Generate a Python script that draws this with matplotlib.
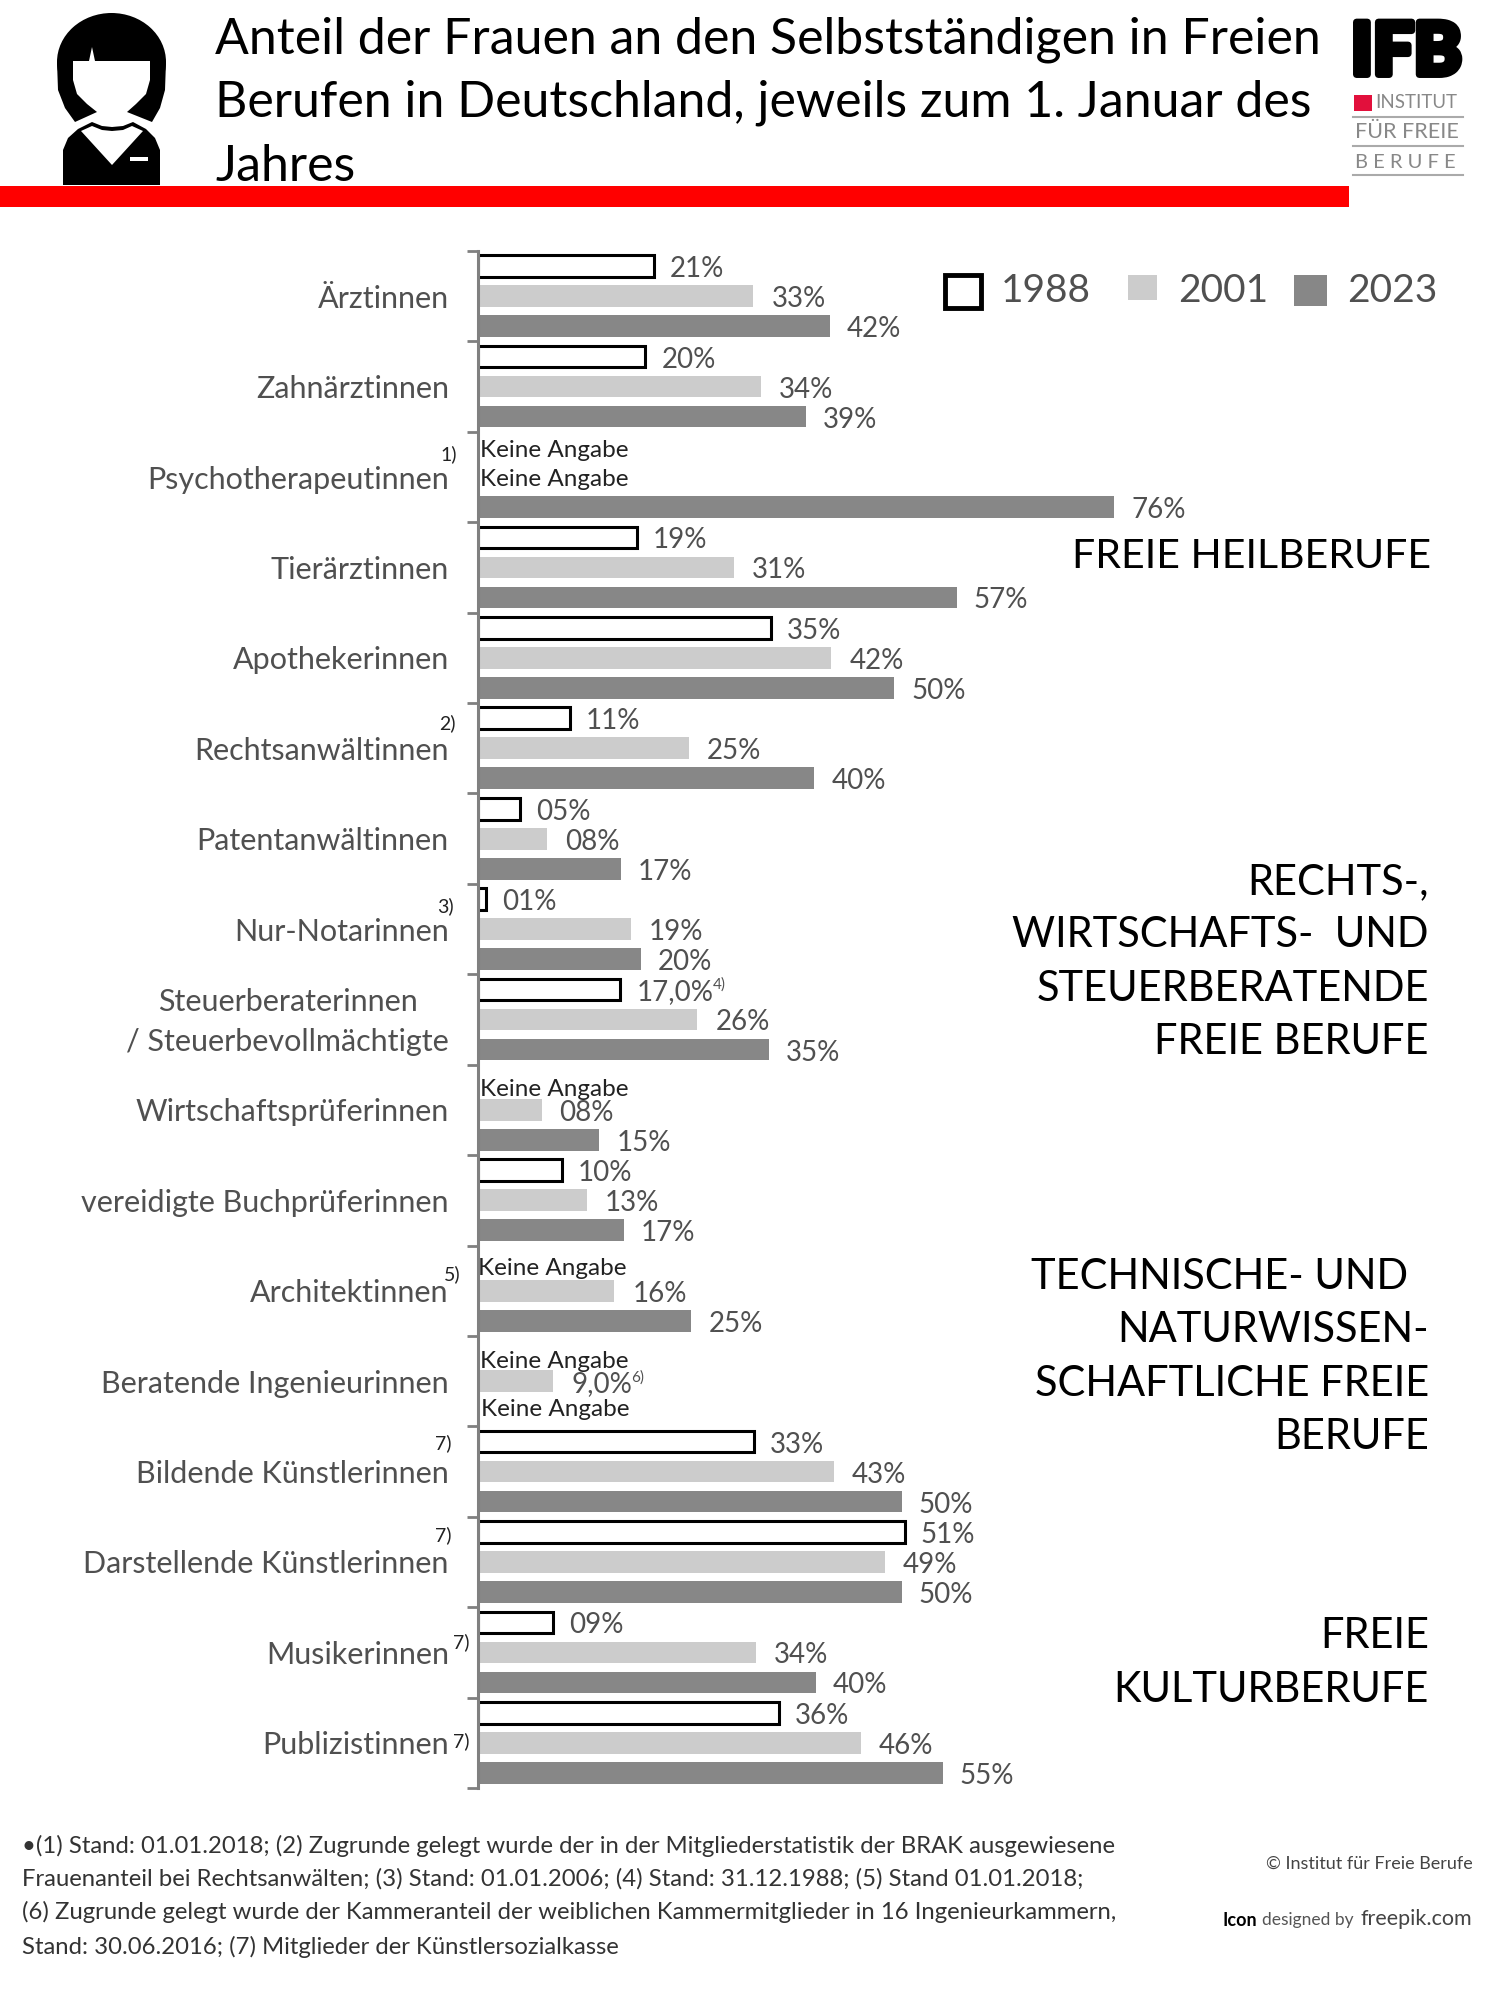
import matplotlib
matplotlib.use("Agg")
import matplotlib.pyplot as plt
import matplotlib.patheffects as pe
from matplotlib.patches import Rectangle, Ellipse, Polygon
from matplotlib.transforms import ScaledTranslation

plt.rcParams['font.family'] = ['Lato', 'DejaVu Sans']

# Data
categories = ["Ärztinnen", "Zahnärztinnen", "Psychotherapeutinnen", "Tierärztinnen",
              "Apothekerinnen", "Rechtsanwältinnen", "Patentanwältinnen", "Nur-Notarinnen",
              "Steuerberaterinnen\n/ Steuerbevollmächtigte", "Wirtschaftsprüferinnen",
              "vereidigte Buchprüferinnen", "Architektinnen", "Beratende Ingenieurinnen",
              "Bildende Künstlerinnen", "Darstellende Künstlerinnen", "Musikerinnen",
              "Publizistinnen"]
# bar lengths, the printed labels are kept apart below
v1988 = [21, 20, None, 19, 35, 11, 5, 1, 17, None, 10, None, None, 33, 51, 9, 36]
v2001 = [32.9, 33.8, None, 30.6, 42.2, 25.2, 8.2, 18.3, 26.2, 7.6, 13, 16.3, 9, 42.5, 48.6, 33.2, 45.7]
v2023 = [42, 39.2, 76, 57.2, 49.7, 40.2, 17.1, 19.5, 34.8, 14.5, 17.4, 25.5, None, 50.6, 50.6, 40.4, 55.5]
l1988 = ["21%", "20%", "", "19%", "35%", "11%", "05%", "01%", "17,0%", "", "10%", "", "", "33%", "51%", "09%", "36%"]
l2001 = ["33%", "34%", "", "31%", "42%", "25%", "08%", "19%", "26%", "08%", "13%", "16%", "9,0%", "43%", "49%", "34%", "46%"]
l2023 = ["42%", "39%", "76%", "57%", "50%", "40%", "17%", "20%", "35%", "15%", "17%", "25%", "", "50%", "50%", "40%", "55%"]

title = ("Anteil der Frauen an den Selbstständigen in Freien\n"
         "Berufen in Deutschland, jeweils zum 1. Januar des\nJahres")
footnotes = ["•(1) Stand: 01.01.2018; (2) Zugrunde gelegt wurde der in der Mitgliederstatistik der BRAK ausgewiesene",
             "Frauenanteil bei Rechtsanwälten; (3) Stand: 01.01.2006; (4) Stand: 31.12.1988; (5) Stand 01.01.2018;",
             "(6) Zugrunde gelegt wurde der Kammeranteil der weiblichen Kammermitglieder in 16 Ingenieurkammern,",
             "Stand: 30.06.2016; (7) Mitglieder der Künstlersozialkasse"]

LIGHT = "#cccccc"
DARK = "#878787"
TXT = "#505050"

fig = plt.figure(figsize=(15, 20), dpi=100)

# page axes in pixel coordinates, for everything around the chart
pg = fig.add_axes([0, 0, 1, 1])
pg.set_xlim(0, 1500)
pg.set_ylim(2000, 0)
pg.axis("off")

# chart axes
ax = fig.add_axes([478 / 1500, 1 - 1788 / 2000, 1002 / 1500, (1788 - 251) / 2000])
ax.patch.set_alpha(0)
ax.set_xlim(0, 1002 / 8.37)
ax.set_ylim(16.5, -0.5)
for s in ["top", "right", "bottom"]:
    ax.spines[s].set_visible(False)
ax.spines["left"].set_color("#808080")
ax.spines["left"].set_linewidth(2.2)
ax.spines["left"].set_zorder(5)
ax.xaxis.set_visible(False)

ax.set_yticks([i - 0.5 for i in range(18)])
ax.set_yticklabels([])
ax.tick_params(axis="y", which="major", length=8, width=2, color="#808080")
ax.set_yticks(range(17), minor=True)
ax.set_yticklabels(categories, minor=True, fontsize=22, color=TXT,
                   multialignment="center", linespacing=1.5)
ax.tick_params(axis="y", which="minor", length=0, pad=21)
# the two line label sits a bit higher than the group centre
lab = ax.get_yticklabels(minor=True)[8]
lab.set_transform(lab.get_transform() + ScaledTranslation(0, 6 / 100, fig.dpi_scale_trans))

off = 0.332
h = 0.24
for i in range(17):
    if v1988[i] is not None:
        ax.barh(i - off, v1988[i], height=h, facecolor="white", edgecolor="black", linewidth=2.2)
        ax.annotate(l1988[i], (v1988[i], i - off), xytext=(16, -3), textcoords="offset pixels",
                    va="center", fontsize=20, color=TXT)
    if v2001[i] is not None:
        ax.barh(i, v2001[i], height=h, color=LIGHT)
        ax.annotate(l2001[i], (v2001[i], i), xytext=(18, -3), textcoords="offset pixels",
                    va="center", fontsize=20, color=TXT)
    if v2023[i] is not None:
        ax.barh(i + off, v2023[i], height=h, color=DARK)
        ax.annotate(l2023[i], (v2023[i], i + off), xytext=(17, -3), textcoords="offset pixels",
                    va="center", fontsize=20, color=TXT)

# "Keine Angabe" labels: category, bar offset, nudge in pixels
for c, o, dx, dy in [(2, -off, 2, -3), (2, 0, 2, -2), (9, -off, 2, -10), (11, -off, 0, -8),
                     (12, -off, 2, -10), (12, off, 3, 2)]:
    ax.annotate("Keine Angabe", (0, c + o), xytext=(dx, dy), textcoords="offset pixels",
                va="center", fontsize=17.5, color="#222222", zorder=6)

# superscripts behind value labels
ax.annotate("4)", (17, 8 - off), xytext=(92, 5), textcoords="offset pixels", va="center",
            fontsize=11, color=TXT)
ax.annotate("6)", (9, 12), xytext=(78, 4), textcoords="offset pixels", va="center",
            fontsize=11, color=TXT)

# footnote marks at the category labels
for txt, x, y in [("1)", 449, 454), ("2)", 447, 723), ("3)", 445, 906), ("5)", 452, 1274),
                  ("7)", 443, 1443), ("7)", 443, 1535), ("7)", 461, 1642), ("7)", 461, 1741)]:
    pg.text(x, y, txt, ha="center", va="center", fontsize=14, color="#222222")

# header
pg.text(215, 103, title, ha="left", va="center", fontsize=36, color="black", linespacing=1.46)
pg.add_patch(Rectangle((0, 186), 1349, 21, color="#ff0000", lw=0))

# woman icon
pg.add_patch(Ellipse((111.5, 62), 109, 98, color="black", lw=0))
pg.add_patch(Polygon([(57, 62), (58, 90), (65, 108), (75, 122), (97, 112), (127, 112), (152, 122),
                      (160, 108), (165, 90), (166, 62)], color="black", lw=0))
pg.add_patch(Polygon([(73, 61), (89, 61), (92, 47), (95, 61), (150, 61), (150, 80), (146, 94), (136, 104),
                      (127, 112), (127, 125), (97, 125), (97, 112), (87, 104), (77, 94), (73, 80)],
                     color="white", lw=0))
pg.add_patch(Polygon([(63, 185), (63, 150), (68, 138), (78, 129), (92, 122), (102, 126), (112, 127),
                      (123, 126), (133, 122), (146, 129), (155, 138), (160, 150), (160, 185)],
                     color="black", lw=0))
pg.add_patch(Polygon([(81, 131), (92, 126), (102, 130), (112, 131), (123, 130), (132, 126), (143, 131), (112, 165)],
                     color="white", lw=0))
pg.add_patch(Rectangle((130, 157), 18, 4, color="white", lw=0))

# logo
pg.text(1351, 54, "IFB", ha="left", va="center", fontsize=52, fontweight="black", color="black",
        path_effects=[pe.withStroke(linewidth=5, foreground="black")])
pg.add_patch(Rectangle((1354, 95), 18, 16, color="#e2103c", lw=0))
pg.text(1375, 103, "INSTITUT", ha="left", va="center", fontsize=13.5, color="#888888")
pg.text(1355, 132, "FÜR FREIE", ha="left", va="center", fontsize=15.5, color="#888888")
pg.text(1355, 162, "B E R U F E", ha="left", va="center", fontsize=14.5, color="#888888")
for y in [117, 146, 175]:
    pg.plot([1353, 1463], [y, y], color="#aaaaaa", lw=1.5)

# legend
pg.add_patch(Rectangle((945, 275), 36, 33, facecolor="white", edgecolor="black", lw=3.5))
pg.text(1001, 291, "1988", va="center", fontsize=28, color=TXT)
pg.add_patch(Rectangle((1128, 275), 29, 25, color=LIGHT, lw=0))
pg.text(1178, 291, "2001", va="center", fontsize=28, color=TXT)
pg.add_patch(Rectangle((1294, 275), 33, 31, color=DARK, lw=0))
pg.text(1347, 291, "2023", va="center", fontsize=28, color=TXT)

# group captions
pg.text(1431, 557, "FREIE HEILBERUFE", ha="right", va="center", fontsize=29.5, color="black")
pg.text(1429, 962, "RECHTS-,\nWIRTSCHAFTS-  UND\nSTEUERBERATENDE\nFREIE BERUFE", ha="right", va="center",
        fontsize=30, color="black", linespacing=1.49)
pg.text(1429, 1357, "TECHNISCHE- UND  \nNATURWISSEN-\nSCHAFTLICHE FREIE\nBERUFE", ha="right", va="center",
        fontsize=30, color="black", linespacing=1.49)
pg.text(1429, 1663, "FREIE\nKULTURBERUFE", ha="right", va="center", fontsize=30, color="black",
        linespacing=1.49)

# footnotes
for y, line in zip([1846, 1879, 1912, 1947], footnotes):
    pg.text(22, y, line, va="center", fontsize=17.2, color="#333333")
pg.text(1473, 1864, "© Institut für Freie Berufe", ha="right", va="center", fontsize=13, color="#444444")
pg.text(1222, 1920, "Icon", va="center", fontsize=13, color="black", fontweight="bold")
pg.text(1262, 1920, "designed by", va="center", fontsize=12.5, color="#555555")
pg.text(1472, 1919, "freepik.com", ha="right", va="center", fontsize=15.5, color="#444444")

fig.savefig("out.png", dpi=100)
